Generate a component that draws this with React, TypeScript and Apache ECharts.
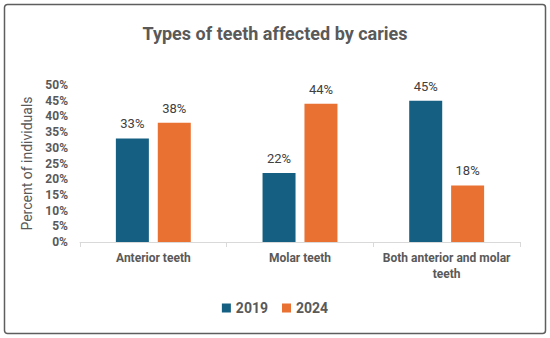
import React, { useEffect, useRef } from "react";
import * as echarts from "echarts";

const categories = ["Anterior teeth", "Molar teeth", "Both anterior and molar\nteeth"];
const series2019 = [33, 22, 45];
const series2024 = [38, 44, 18];
const yTicks = { min: 0, max: 50, interval: 5 };

const FONT = "'Roboto', sans-serif";

export default function App() {
  const ref = useRef<HTMLDivElement>(null);
  useEffect(() => {
    document.body.style.margin = "0";
    const chart = echarts.init(ref.current!, null, { renderer: "svg" });
    const labelCfg = {
      show: true,
      position: "top",
      distance: 8,
      formatter: "{c}%",
      color: "#404040",
      fontSize: 13,
      fontFamily: FONT,
    };
    chart.setOption({
      animation: false,
      backgroundColor: "#ffffff",
      title: {
        text: "Types of teeth affected by caries",
        left: "center",
        top: 19,
        textStyle: { fontFamily: FONT, fontSize: 18, fontWeight: "bold", color: "#595959" },
      },
      graphic: [
        {
          type: "rect",
          shape: { x: 4.5, y: 4.5, width: 541, height: 329, r: 3 },
          style: { fill: "none", stroke: "#5e5e5e", lineWidth: 1.5 },
          silent: true,
        },
      ],
      grid: { left: 80, right: 30, top: 85, bottom: 96, containLabel: false },
      legend: {
        bottom: 18,
        left: "center",
        itemWidth: 9,
        itemHeight: 9,
        itemGap: 14,
        icon: "rect",
        textStyle: { fontFamily: FONT, fontSize: 14, fontWeight: "bold", color: "#595959" },
        data: ["2019", "2024"],
      },
      xAxis: {
        type: "category",
        data: categories,
        axisLine: { lineStyle: { color: "#d9d9d9", width: 1 } },
        axisTick: { show: true, interval: 0, length: 5, lineStyle: { color: "#d9d9d9" } },
        axisLabel: {
          interval: 0,
          margin: 8,
          fontFamily: FONT,
          fontSize: 12,
          fontWeight: "bold",
          color: "#595959",
          lineHeight: 16,
        },
      },
      yAxis: {
        type: "value",
        min: yTicks.min,
        max: yTicks.max,
        interval: yTicks.interval,
        name: "Percent of individuals",
        nameLocation: "middle",
        nameGap: 39,
        nameTextStyle: { fontFamily: FONT, fontSize: 14, color: "#595959" },
        splitLine: { show: false },
        axisLine: { show: false },
        axisTick: { show: false },
        axisLabel: {
          formatter: "{value}%",
          margin: 12,
          fontFamily: FONT,
          fontSize: 12,
          fontWeight: "bold",
          color: "#595959",
        },
      },
      series: [
        {
          name: "2019",
          type: "bar",
          data: series2019,
          barWidth: 33,
          barGap: "27%",
          itemStyle: { color: "#156082" },
          label: labelCfg,
        },
        {
          name: "2024",
          type: "bar",
          data: series2024,
          barWidth: 33,
          itemStyle: { color: "#E97132" },
          label: labelCfg,
        },
      ],
    });
    return () => chart.dispose();
  }, []);
  return <div ref={ref} style={{ width: 550, height: 338 }} />;
}
